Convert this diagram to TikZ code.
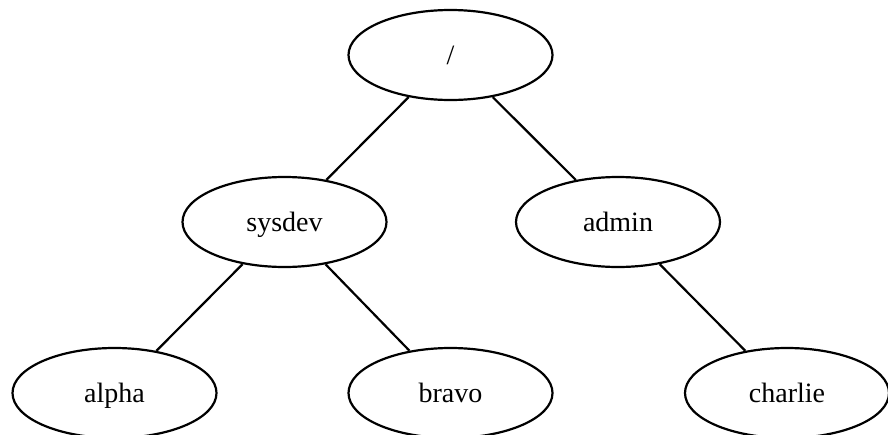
\documentclass[tikz,border=0pt]{standalone}
\usepackage{fontspec}
\setmainfont{Liberation Serif}
\usetikzlibrary{shapes.geometric}
\begin{document}
\begin{tikzpicture}[x=1pt,y=-1pt,
  dirnode/.style={ellipse, draw=black, line width=2.2pt, minimum width=204pt,
    minimum height=90pt, inner sep=0pt, text height=19pt, text depth=1pt,
    font=\fontsize{28}{30}\selectfont},
  link/.style={draw=black, line width=2.2pt}]
  \useasboundingbox (0,0) rectangle (888,434);
  % directory tree
  \node[dirnode] (root)    at (450.5,55)  {/};
  \node[dirnode] (sysdev)  at (284.5,222) {sysdev};
  \node[dirnode] (admin)   at (618,222)   {admin};
  \node[dirnode] (alpha)   at (114.5,393) {alpha};
  \node[dirnode] (bravo)   at (450.5,393) {bravo};
  \node[dirnode] (charlie) at (787,393)   {charlie};
  \path[link] (root) -- (sysdev);
  \path[link] (root) -- (admin);
  \path[link] (sysdev) -- (alpha);
  \path[link] (sysdev) -- (bravo);
  \path[link] (admin) -- (charlie);
\end{tikzpicture}
\end{document}
